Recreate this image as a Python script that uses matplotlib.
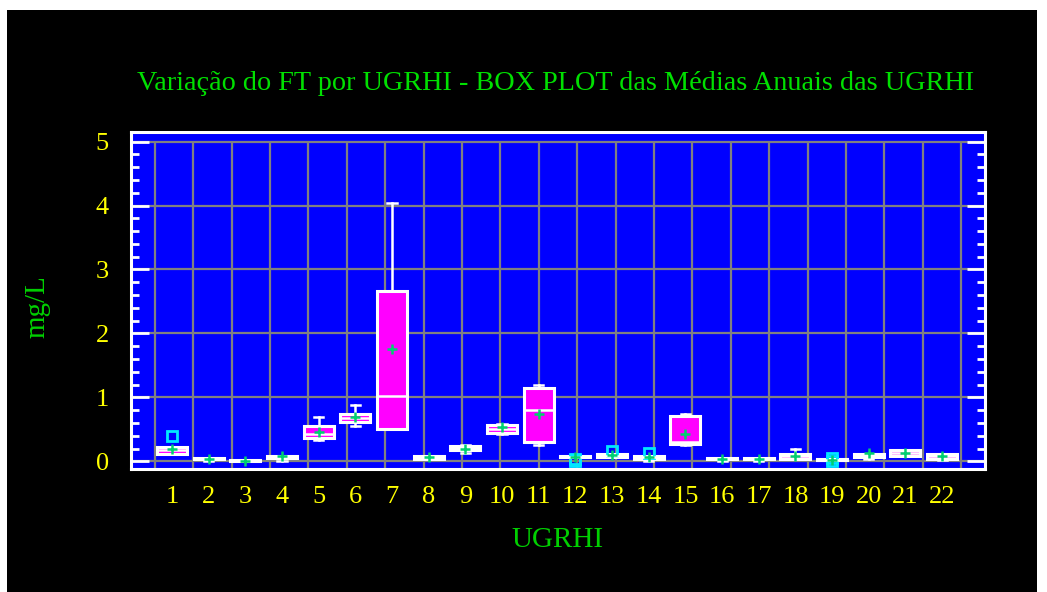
import numpy as np
import matplotlib
matplotlib.use("Agg")
import matplotlib.pyplot as plt
from matplotlib.patches import Rectangle
from matplotlib.transforms import blended_transform_factory

# estatisticas das medias anuais de FT (mg/L) por UGRHI
ugrhi = [str(i) for i in range(1, 23)]
whislo = [0.12, 0.01, 0.00, 0.01, 0.33, 0.56, 0.50, 0.04, 0.13, 0.42, 0.25,
          0.07, 0.07, 0.01, 0.25, 0.00, 0.00, 0.04, 0.02, 0.04, 0.08, 0.02]
q1 = [0.12, 0.04, 0.00, 0.05, 0.36, 0.615, 0.50, 0.04, 0.18, 0.44, 0.30,
      0.07, 0.07, 0.04, 0.27, 0.04, 0.04, 0.04, 0.02, 0.07, 0.08, 0.04]
med = [0.17, 0.045, 0.01, 0.07, 0.42, 0.67, 1.02, 0.06, 0.21, 0.51, 0.80,
       0.075, 0.09, 0.06, 0.31, 0.045, 0.045, 0.08, 0.025, 0.10, 0.13, 0.08]
q3 = [0.23, 0.05, 0.025, 0.09, 0.55, 0.745, 2.66, 0.09, 0.235, 0.57, 1.15,
      0.08, 0.115, 0.09, 0.71, 0.05, 0.05, 0.115, 0.03, 0.12, 0.17, 0.115]
whishi = [0.23, 0.05, 0.025, 0.09, 0.69, 0.88, 4.04, 0.09, 0.255, 0.59, 1.20,
          0.08, 0.115, 0.09, 0.74, 0.05, 0.05, 0.19, 0.03, 0.12, 0.17, 0.115]
medias = [0.19, 0.04, 0.01, 0.08, 0.46, 0.69, 1.75, 0.07, 0.20, 0.53, 0.74,
          0.075, 0.10, 0.07, 0.43, 0.03, 0.03, 0.08, 0.025, 0.13, 0.13, 0.08]
outliers = [[0.39], [], [], [], [], [], [], [], [], [], [],
            [0.0, 0.04], [0.155], [0.13], [], [], [], [], [0.01, 0.05], [], [], []]

stats = []
for i in range(len(ugrhi)):
    stats.append(dict(label=ugrhi[i], whislo=whislo[i], q1=q1[i], med=med[i],
                      q3=q3[i], whishi=whishi[i], mean=medias[i], fliers=outliers[i]))

fig = plt.figure(figsize=(10.47, 5.92), dpi=100, facecolor="white")
# fundo preto da janela
fig.patches.append(Rectangle((7 / 1047, 0), 1030 / 1047, 582 / 592,
                             transform=fig.transFigure, facecolor="black",
                             edgecolor="none", zorder=-1))

ax = fig.add_axes([131 / 1047, 1 - 469 / 592, 854 / 1047, 337 / 592])
ax.set_facecolor("#0000ff")

# grade
cinza = "#808080"
for y in range(0, 6):
    ax.axhline(y, color=cinza, lw=1.6, zorder=0)
tr = blended_transform_factory(ax.transAxes, ax.transData)
ax.vlines(np.linspace(0.028, 0.972, 22), -0.12, 5, transform=tr,
          color=cinza, lw=1.6, zorder=0)

ax.bxp(stats, positions=range(1, 23), widths=0.82, patch_artist=True,
       showmeans=True, capwidths=0.25,
       boxprops=dict(facecolor="#ff00ff", edgecolor="white", linewidth=2.2),
       medianprops=dict(color="white", linewidth=1.8),
       whiskerprops=dict(color="white", linewidth=1.8),
       capprops=dict(color="white", linewidth=1.8),
       meanprops=dict(marker="+", markeredgecolor="#00d070", markersize=7,
                      markeredgewidth=1.8),
       flierprops=dict(marker="s", markerfacecolor="none",
                       markeredgecolor="#00e8ff", markersize=7, markeredgewidth=2))

ax.set_xlim(-0.12, 23.17)
ax.set_ylim(-0.12, 5.15)

for s in ax.spines.values():
    s.set_color("white")
    s.set_linewidth(2.2)

fonte = "Liberation Serif"
ax.set_yticks(range(0, 6))
ax.set_yticks(np.arange(0, 5.01, 0.2), minor=True)
ax.tick_params(axis="y", which="major", direction="in", length=13, width=2,
               color="white", left=True, right=True, labelcolor="#ffff00",
               labelsize=19, pad=16)
ax.tick_params(axis="y", which="minor", direction="in", length=6, width=2,
               color="white", left=True, right=True)
ax.tick_params(axis="x", length=0, labelcolor="#ffff00", labelsize=19, pad=12)
ax.set_xticks(range(1, 23))
ax.set_xticklabels(ugrhi)
for lab in ax.get_xticklabels() + ax.get_yticklabels():
    lab.set_family(fonte)

fig.text(556 / 1047, 1 - 83 / 592,
         "Variação do FT por UGRHI - BOX PLOT das Médias Anuais das UGRHI",
         color="#00e000", fontsize=20.3, family=fonte, ha="center", va="center")
fig.text(558 / 1047, 1 - 540 / 592, "UGRHI", color="#00d000", fontsize=21,
         family=fonte, ha="center", va="center")
fig.text(37 / 1047, 1 - 307 / 592, "mg/L", color="#00d000", fontsize=21,
         family=fonte, ha="center", va="center", rotation=90)

fig.savefig("out.png", dpi=100, facecolor=fig.get_facecolor())
